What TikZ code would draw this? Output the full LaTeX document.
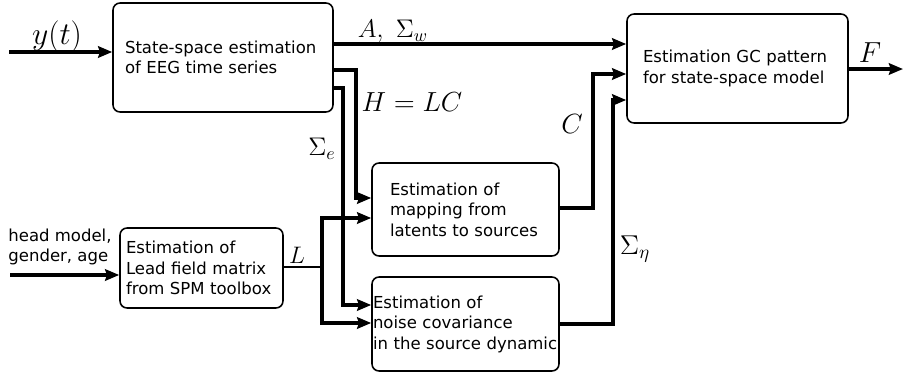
\documentclass[tikz,border=0pt]{standalone}
\usepackage{fix-cm}
\usepackage[no-math]{fontspec}
\setmainfont{DejaVu Sans}
\usetikzlibrary{arrows.meta}

\begin{document}
\begin{tikzpicture}[x=0.02cm, y=-0.02cm,
		blk/.style={draw, line width=0.9pt, rounded corners=4pt, align=left, inner ysep=0pt,
			font=\fontsize{9.4}{11.7}\selectfont},
		arr/.style={line width=1.9pt, -{Stealth[length=8pt,width=6.5pt,inset=1pt]}},
		lbl/.style={inner sep=0pt, font=\fontsize{#1}{#1}\selectfont}]
		\useasboundingbox (0,0) rectangle (904,373);

		\node[blk, minimum width=4.4cm, minimum height=2.18cm, text width=3.92cm, inner xsep=0.24cm] (sse) at (223,57.5) {State-space estimation\\of EEG time series};
		\node[blk, minimum width=4.42cm, minimum height=2.18cm, text width=3.78cm, inner xsep=0.32cm] (gcp) at (737.5,68.5) {Estimation GC pattern\\for state-space model};
		\node[blk, minimum width=3.74cm, minimum height=1.86cm, text width=3.02cm, inner xsep=0.36cm] (map) at (465.5,209.5) {Estimation of\\mapping from\\latents to sources};
		\node[blk, minimum width=3.74cm, minimum height=1.88cm, text width=3.70cm, inner xsep=0.02cm] (noise) at (465.5,324) {Estimation of\\noise covariance\\in the source dynamic};
		\node[blk, minimum width=3.26cm, minimum height=1.6cm, text width=3.02cm, inner xsep=0.12cm] (lead) at (201.5,268) {Estimation of\\Lead field matrix\\from SPM toolbox};
		\node[align=left, inner sep=0pt, font=\fontsize{9.4}{11.7}\selectfont] (head) at (60,247) {head model,\\gender, age};

		\coordinate (yin) at (9,52);
		\coordinate (fout) at (903,69);
		\coordinate (hin) at (10,275);
		\coordinate (lj) at (322,267);

		\draw[arr] (yin) -- (yin -| sse.west);
		\draw[arr] (sse.east |- 0,44) -- (gcp.west |- 0,44);
		\draw[arr] (gcp.east |- fout) -- (fout);
		\draw[arr] (sse.east |- 0,70) -| (356,198) -- (map.west |- 0,198);
		\draw[arr] (sse.east |- 0,88) -| (343,305) -- (noise.west |- 0,305);
		\draw[line width=1.2pt] (lead.east |- lj) -- (lj);
		\draw[arr] (lj) |- (map.west |- 0,218);
		\draw[arr] (lj) |- (noise.west |- 0,323);
		\draw[arr] (hin) -- (hin -| lead.west);
		\draw[arr] (map.east |- 0,208) -| (593,74) -- (gcp.west |- 0,74);
		\draw[arr] (noise.east |- 0,324) -| (613,100) -- (gcp.west |- 0,100);

		\node[lbl=18] (ylab) at (57,36.5) {$y(t)$};
		\node[lbl=14.5] (awlab) at (393,31) {$A,\ \Sigma_w$};
		\node[lbl=16.5] (flab) at (870,53) {$F$};
		\node[lbl=15.7] (hlab) at (412,102.5) {$H = LC$};
		\node[lbl=14.5] (selab) at (322,149) {$\Sigma_e$};
		\node[lbl=13.6] (llab) at (297,255) {$L$};
		\node[lbl=15.8] (clab) at (572,124) {$C$};
		\node[lbl=15.5] (etalab) at (635,249.5) {$\Sigma_\eta$};
	\end{tikzpicture}
\end{document}
